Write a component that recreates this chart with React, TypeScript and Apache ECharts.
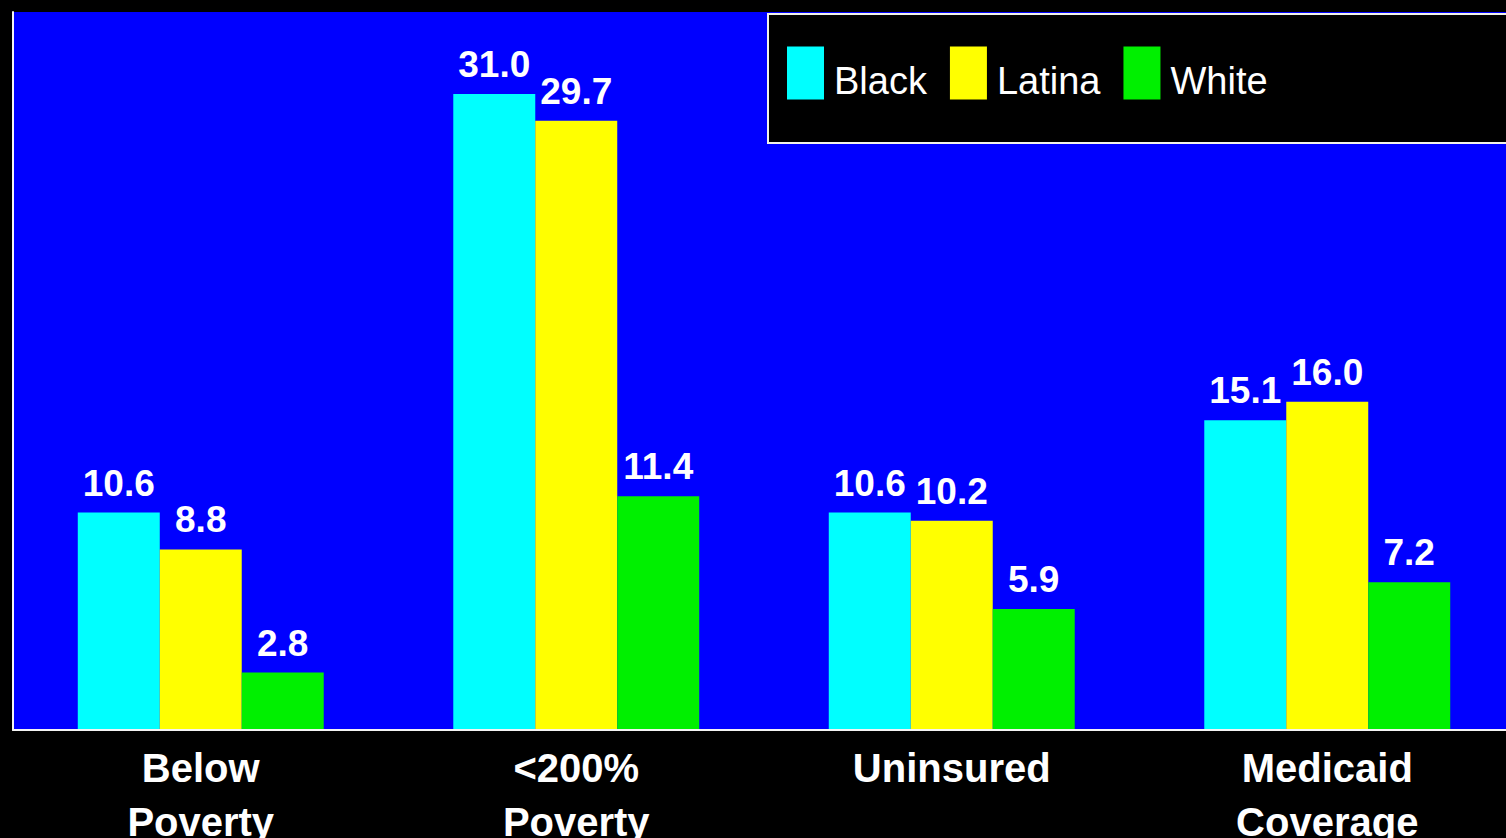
import React, { useEffect, useRef } from "react";
import * as echarts from "echarts";

// Category labels along the x axis
const categories = ["Below\nPoverty", "<200%\nPoverty", "Uninsured", "Medicaid\nCoverage"];

// Percentages per group
const seriesNames = ["Black", "Latina", "White"];
const blackValues = [10.6, 31.0, 10.6, 15.1];
const latinaValues = [8.8, 29.7, 10.2, 16.0];
const whiteValues = [2.8, 11.4, 5.9, 7.2];
const seriesColors = ["#00ffff", "#ffff00", "#00f000"];

const FONT = "'Liberation Sans', Arial, Helvetica, sans-serif";

export default function App() {
  const ref = useRef<HTMLDivElement>(null);

  useEffect(() => {
    if (!ref.current) return;
    const chart = echarts.init(ref.current, null, { renderer: "svg" });
    const values = [blackValues, latinaValues, whiteValues];

    chart.setOption({
      animation: false,
      backgroundColor: "#000000",
      grid: {
        left: 13,
        top: 12,
        width: 1502,
        height: 718,
        containLabel: false,
        outerBoundsMode: "none",
        show: true,
        backgroundColor: "#0000ff",
        borderWidth: 0,
      },
      // Black legend panel with a light frame, running off the right edge
      graphic: [
        {
          type: "rect",
          z: 3,
          shape: { x: 768, y: 14, width: 760, height: 129 },
          style: { fill: "#000000", stroke: "#f2f2ea", lineWidth: 2 },
          silent: true,
        },
      ],
      legend: {
        data: seriesNames,
        left: 787,
        top: 46,
        padding: 0,
        orient: "horizontal",
        icon: "rect",
        itemWidth: 37,
        itemHeight: 53,
        itemGap: 23,
        selectedMode: false,
        z: 6,
        formatter: "{n|{name}}",
        textStyle: {
          color: "#ffffff",
          fontFamily: FONT,
          fontSize: 38,
          rich: {
            n: {
              color: "#ffffff",
              fontFamily: FONT,
              fontSize: 38,
              lineHeight: 38,
              padding: [16, 0, 0, 5],
            },
          },
        },
      },
      xAxis: {
        type: "category",
        data: categories,
        z: 5,
        axisLine: { show: true, lineStyle: { color: "#f4f4f4", width: 2 } },
        axisTick: { show: false },
        axisLabel: {
          color: "#ffffff",
          fontFamily: FONT,
          fontWeight: "bold",
          fontSize: 40,
          lineHeight: 54,
          margin: 11,
          interval: 0,
        },
        splitLine: { show: false },
      },
      yAxis: {
        type: "value",
        min: 0,
        max: 35,
        z: 5,
        axisLine: { show: true, lineStyle: { color: "#f4f4f4", width: 2 } },
        axisTick: { show: false },
        axisLabel: { show: false },
        splitLine: { show: false },
      },
      series: seriesNames.map((name, i) => ({
        name,
        type: "bar",
        data: values[i],
        barGap: "0%",
        barCategoryGap: "34.5%",
        itemStyle: { color: seriesColors[i] },
        label: {
          show: true,
          position: "top",
          distance: 11,
          color: "#ffffff",
          fontFamily: FONT,
          fontWeight: "bold",
          fontSize: 37,
          formatter: (p: any) => Number(p.value).toFixed(1),
        },
      })),
    });

    return () => chart.dispose();
  }, []);

  return (
    <div
      ref={ref}
      style={{ position: "absolute", left: 0, top: 0, width: 1506, height: 838 }}
    />
  );
}
